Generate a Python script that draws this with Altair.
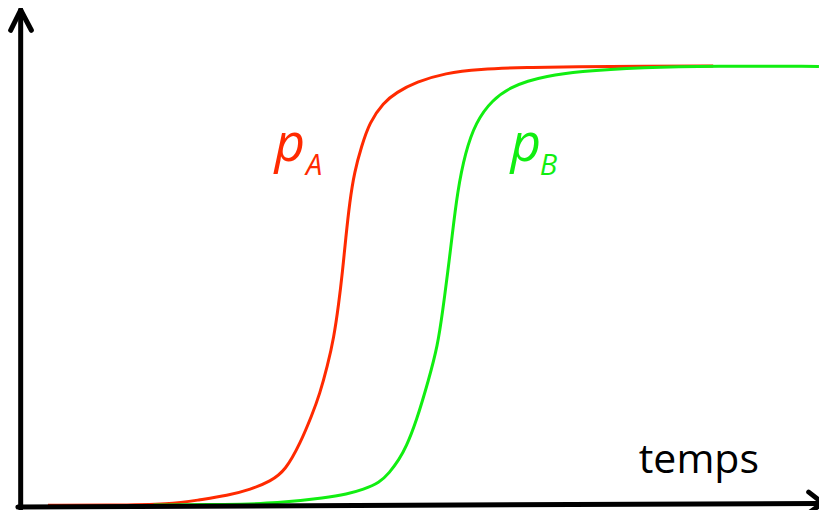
import altair as alt
import pandas as pd

# ---- data (time units, probability 0..1) ----
red_t = [3.4, 11.0, 19.0, 22.4, 26.1, 29.0, 31.5, 33.4, 35.25, 36.75, 37.7, 38.7, 39.5, 40.1, 40.6,
         41.0, 41.5, 42.1, 43.0, 44.0, 45.75, 47.4, 49.9, 53.6, 57.75, 64.0, 69.9, 78.6, 87.4]
red_p = [0.004, 0.004, 0.006, 0.016, 0.026, 0.040, 0.058, 0.083, 0.144, 0.209, 0.255, 0.320, 0.384, 0.458, 0.535,
         0.609, 0.692, 0.760, 0.818, 0.872, 0.917, 0.940, 0.964, 0.984, 0.993, 0.997, 0.998, 0.9995, 1.0]

green_t = [16.75, 26.1, 32.4, 38.6, 41.1, 43.25, 45.25, 46.5, 47.75, 48.6, 49.9, 51.5, 52.6, 53.25, 53.9,
           54.4, 55.1, 56.1, 57.4, 59.5, 62.0, 64.0, 66.1, 70.25, 78.6, 87.4, 100.75]
green_p = [0.0045, 0.0056, 0.0083, 0.021, 0.029, 0.040, 0.055, 0.077, 0.108, 0.135, 0.193, 0.290, 0.365, 0.445, 0.535,
           0.609, 0.715, 0.804, 0.872, 0.924, 0.953, 0.966, 0.976, 0.988, 0.997, 1.0, 0.999]

series_names = ["A", "B"]
series_colors = ["#ff2a00", "#11ee11"]

# axis arrows (drawn as polylines in data units)
yaxis_t = [-0.04, -0.04]
yaxis_p = [-0.003, 1.127]
yhead_t = [-1.31, -0.04, 1.31]
yhead_p = [1.081, 1.127, 1.081]
xaxis_t = [-0.4, 100.6]
xaxis_p = [0.0, 0.0079]
xhead_t = [99.46, 101.25, 99.46]
xhead_p = [0.0337, 0.009, -0.0135]

# labels
lab_text = ["p", "A", "p", "B"]
lab_t = [32.0, 36.0, 61.8, 65.5]
lab_p = [0.784, 0.752, 0.784, 0.752]
lab_series = ["A", "A", "B", "B"]
lab_size = [53, 29, 53, 29]
xlabel = "temps"
xlabel_t = 78.0
xlabel_p = 0.077

# ---- layout ----
W, H = 811, 502
KX = 7.92      # px per time unit
KY = 441.0     # px per unit of p
X0 = 21.0      # page x of t = 0
Y0 = 507.0     # page y of p = 0
X_DOM = [(8 - X0) / KX, (8 + W - X0) / KX]
Y_DOM = [(Y0 - (8 + H)) / KY, (Y0 - 8) / KY]

curves = pd.DataFrame(
    [{"t": t, "p": p, "s": "A", "i": k} for k, (t, p) in enumerate(zip(red_t, red_p))]
    + [{"t": t, "p": p, "s": "B", "i": k} for k, (t, p) in enumerate(zip(green_t, green_p))]
)

arrows = []
for name, ts, ps in [("ya", yaxis_t, yaxis_p), ("yh", yhead_t, yhead_p),
                     ("xa", xaxis_t, xaxis_p), ("xh", xhead_t, xhead_p)]:
    for k, (t, p) in enumerate(zip(ts, ps)):
        arrows.append({"g": name, "i": k, "t": t, "p": p})
arrows = pd.DataFrame(arrows)

labels = pd.DataFrame({"txt": lab_text, "t": lab_t, "p": lab_p, "s": lab_series, "size": lab_size})
xlab = pd.DataFrame({"txt": [xlabel], "t": [xlabel_t], "p": [xlabel_p]})

xs = alt.Scale(domain=X_DOM, nice=False, zero=False)
ys = alt.Scale(domain=Y_DOM, nice=False, zero=False)
cs = alt.Scale(domain=series_names, range=series_colors)

lines = alt.Chart(curves).mark_line(strokeWidth=3, interpolate="basis", clip=True).encode(
    x=alt.X("t:Q", scale=xs, axis=None),
    y=alt.Y("p:Q", scale=ys, axis=None),
    color=alt.Color("s:N", scale=cs, legend=None),
    order="i:Q",
)

axes = alt.Chart(arrows).mark_line(strokeWidth=5, color="black", strokeCap="round",
                                   strokeJoin="round", clip=True).encode(
    x=alt.X("t:Q", scale=xs, axis=None),
    y=alt.Y("p:Q", scale=ys, axis=None),
    detail="g:N",
    order="i:Q",
)

plabels = alt.Chart(labels).mark_text(font="Open Sans", fontStyle="italic", align="left",
                                      baseline="alphabetic").encode(
    x=alt.X("t:Q", scale=xs, axis=None),
    y=alt.Y("p:Q", scale=ys, axis=None),
    text="txt:N",
    color=alt.Color("s:N", scale=cs, legend=None),
    size=alt.Size("size:Q", scale=None, legend=None),
)

tlabel = alt.Chart(xlab).mark_text(font="Open Sans", fontSize=41, align="left",
                                   baseline="alphabetic", color="black").encode(
    x=alt.X("t:Q", scale=xs, axis=None),
    y=alt.Y("p:Q", scale=ys, axis=None),
    text="txt:N",
)

chart = alt.layer(lines, axes, plabels, tlabel).properties(
    width=W, height=H, padding=0,
    autosize=alt.AutoSizeParams(type="none"),
    background="white",
).configure_view(stroke=None)

chart.save("out.html", embed_options={"renderer": "svg", "actions": False})
